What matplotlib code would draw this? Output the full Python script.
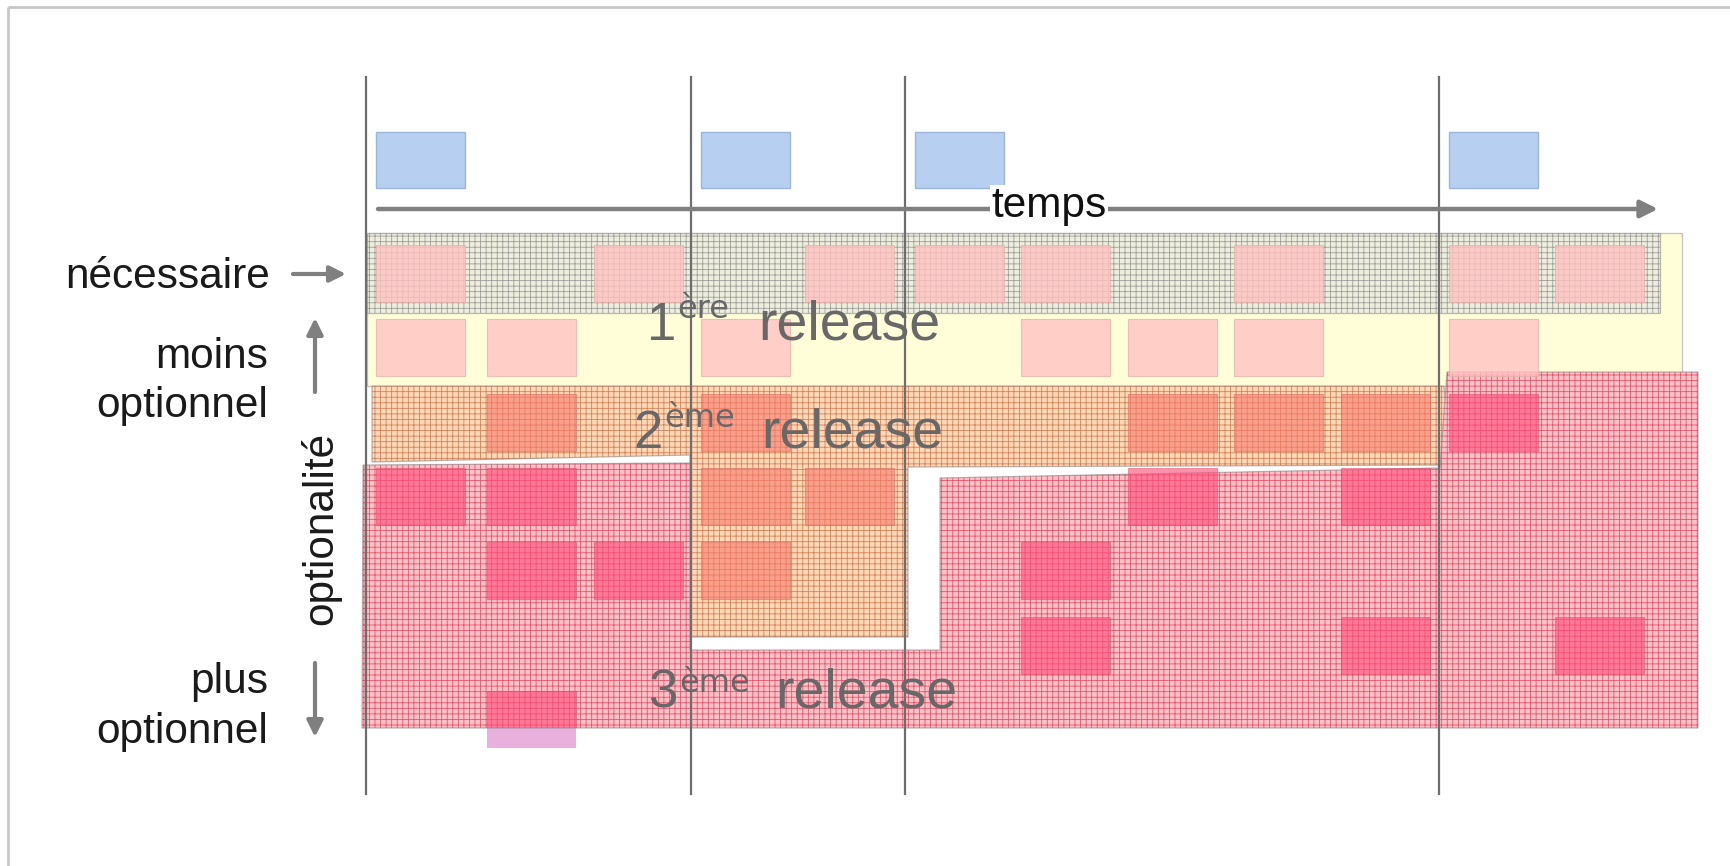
import matplotlib
matplotlib.use('Agg')
import matplotlib.pyplot as plt
from matplotlib.patches import Rectangle, Polygon
from matplotlib.path import Path

plt.rcParams['font.family'] = ['Liberation Sans', 'DejaVu Sans']
plt.rcParams['hatch.linewidth'] = 0.6

# ---------------- data ----------------
iteration_cols = [0, 3, 5, 10]          # columns where an iteration (blue box / vertical line) starts
row_boxes = [                            # feature boxes per optionality row (column indices)
    [0, 2, 4, 5, 6, 8, 10, 11],
    [0, 1, 3, 6, 7, 8, 10],
    [1, 3, 7, 8, 9, 10],
    [0, 1, 3, 4, 7, 9],
    [1, 2, 3, 6],
    [6, 9, 11],
    [1],
]
release_nums = ["1", "2", "3"]
release_sups = ["ère", "ème", "ème"]
release_word = "release"
label_necessary = "nécessaire"
label_less = ["moins", "optionnel"]
label_more = ["plus", "optionnel"]
label_axis = "optionalité"
label_time = "temps"

# ---------------- layout (pixel space) ----------------
W, H = 1730, 866
COL_X = [376, 487, 594, 701, 805, 915, 1021, 1128, 1234, 1341, 1449, 1555]
BW = 89
Y0, RPITCH, BH = 245, 74.3, 57
REGION3_BOTTOM = 728

fig = plt.figure(figsize=(W / 100, H / 100), dpi=100)
ax = fig.add_axes([0, 0, 1, 1])
ax.set_xlim(0, W)
ax.set_ylim(H, 0)
ax.axis('off')

# frame
ax.plot([8, 8], [7, H], color='#c8c8c8', lw=2, zorder=1, solid_capstyle='butt')
ax.plot([8, W], [7, 7], color='#c8c8c8', lw=2, zorder=1, solid_capstyle='butt')

# regions
band = [(367, 233), (1660, 233), (1660, 313), (367, 313)]
region1 = [(367, 233), (1682, 233), (1682, 386), (367, 386)]
region2 = [(372, 386), (1444, 386), (1452, 465), (908, 467), (908, 637),
           (690, 637), (690, 455), (372, 462)]
region3 = [(363, 465), (690, 463), (690, 650), (940, 650), (940, 478),
           (1440, 468), (1447, 372), (1698, 372), (1698, REGION3_BOTTOM), (362, REGION3_BOTTOM)]

def region(poly, face, hatchcol, z, hatch='+++'):
    p = Polygon(poly, closed=True, facecolor=face, edgecolor=hatchcol,
                hatch=hatch, lw=0, zorder=z)
    ax.add_patch(p)
    ax.add_patch(Polygon(poly, closed=True, fill=False, edgecolor=(0.5, 0.5, 0.5, 0.55),
                         lw=0.9, zorder=z + 0.1))
    return p

ax.add_patch(Polygon(region1, closed=True, facecolor='#fffed9', edgecolor=(0.55, 0.55, 0.55, 0.5),
                     lw=0.9, zorder=2))
region(band, '#eeeedf', (0.45, 0.45, 0.45, 0.65), 2.2)
region(region2, '#ffd8b6', (0.80, 0.45, 0.30, 0.85), 3)
p3 = region(region3, '#ffc0c8', (0.85, 0.20, 0.30, 0.75), 4)

path2 = Path(region2)
path3 = Path(region3)

# feature boxes
for r, cols in enumerate(row_boxes):
    for c in cols:
        x = COL_X[c]
        y = Y0 + r * RPITCH
        cx, cy = x + BW / 2, y + BH / 2
        if path3.contains_point((cx, cy)):
            b = Rectangle((x, y), BW, BH, facecolor=(1.0, 0.30, 0.48, 0.62),
                          edgecolor=(0.85, 0.3, 0.4, 0.5), lw=0.8, zorder=6)
            ax.add_patch(b)
            if y + BH > REGION3_BOTTOM:
                # part hanging out below the release area looks lighter
                ax.add_patch(Rectangle((x, y), BW, BH, facecolor='#e9b0de',
                                       edgecolor='none', zorder=1.5))
                b.set_clip_path(p3)
        elif path2.contains_point((cx, cy)):
            ax.add_patch(Rectangle((x, y), BW, BH, facecolor=(0.97, 0.48, 0.43, 0.6),
                                   edgecolor=(0.85, 0.45, 0.40, 0.6), lw=0.8, zorder=6))
        else:
            ax.add_patch(Rectangle((x, y), BW, BH, facecolor=(1.0, 0.76, 0.76, 0.8),
                                   edgecolor=(0.9, 0.68, 0.65, 0.7), lw=0.8, zorder=6))

# iteration markers (blue boxes) and vertical lines
for c in iteration_cols:
    x = COL_X[c]
    ax.add_patch(Rectangle((x, 132), BW, 56, facecolor='#b7cff0', edgecolor='#9db6da', lw=1, zorder=6))
    ax.plot([x - 10.5, x - 10.5], [77, 794], color='#6e6e6e', lw=1.6, zorder=7)

# time arrow
ax.annotate('', xy=(1658, 209), xytext=(378, 209),
            arrowprops=dict(arrowstyle='-|>', color='#808080', lw=3.2, mutation_scale=26,
                            shrinkA=0, shrinkB=0), zorder=9)
ax.text(1049, 217, label_time, fontsize=30.5, ha='center', va='baseline', color='#111111',
        zorder=10, bbox=dict(facecolor='white', edgecolor='none', pad=1))

# release labels
num_pos = [(647, 340), (633, 448), (648, 708)]
sup_pos = [(677, 318), (664, 427), (679, 692)]
word_pos = [(758, 340), (761, 448), (775, 708)]
tc = '#686868'
for i in range(3):
    ax.text(*num_pos[i], release_nums[i], fontsize=38, color=tc, ha='left', va='baseline', zorder=8)
    ax.text(*sup_pos[i], release_sups[i], fontsize=23, color=tc, ha='left', va='baseline',
            zorder=8, family=['DejaVu Sans'])
    ax.text(*word_pos[i], release_word, fontsize=40, color=tc, ha='left', va='baseline', zorder=8)

# left side labels
lc = '#1a1a1a'
ax.text(270, 288, label_necessary, fontsize=30.5, color=lc, ha='right', va='baseline', zorder=9)
for k, s in enumerate(label_less):
    ax.text(268, 368 + 49 * k, s, fontsize=30.5, color=lc, ha='right', va='baseline', zorder=9)
for k, s in enumerate(label_more):
    ax.text(268, 693 + 50 * k, s, fontsize=30.5, color=lc, ha='right', va='baseline', zorder=9)
ax.text(321, 528, label_axis, fontsize=30.5, color=lc, ha='center', va='center', rotation=90, zorder=9)

arrow_kw = dict(arrowstyle='-|>', color='#808080', lw=3.0, mutation_scale=24, shrinkA=0, shrinkB=0)
ax.annotate('', xy=(346, 274), xytext=(293, 274), arrowprops=arrow_kw, zorder=9)
ax.annotate('', xy=(315, 318), xytext=(315, 392), arrowprops=arrow_kw, zorder=9)
ax.annotate('', xy=(315, 737), xytext=(315, 663), arrowprops=arrow_kw, zorder=9)

fig.savefig('out.png', dpi=100)
